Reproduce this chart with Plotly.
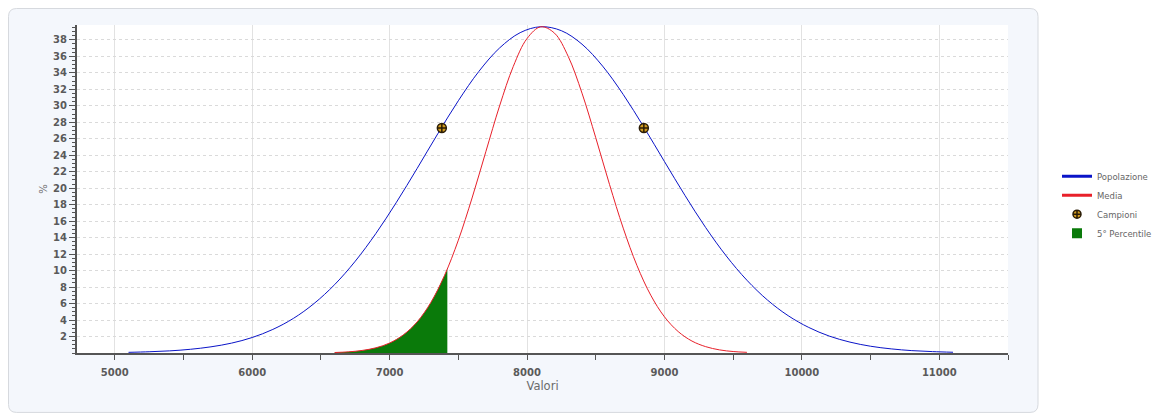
import plotly.graph_objects as go

# Popolazione curve
pop_x = [5100, 5250, 5400, 5550, 5700, 5850, 6000, 6150, 6300, 6450, 6600, 6750, 6900, 7050,
         7200, 7350, 7500, 7650, 7800, 7950, 8100, 8250, 8400, 8550, 8700, 8850, 9000, 9150,
         9300, 9450, 9600, 9750, 9900, 10050, 10200, 10350, 10500, 10650, 10800, 10950, 11100]
pop_y = [0.08, 0.15, 0.26, 0.45, 0.75, 1.2, 1.88, 2.86, 4.2, 6.0, 8.3, 11.14, 14.5, 18.3,
         22.39, 26.59, 30.61, 34.18, 37.01, 38.87, 39.59, 39.11, 37.47, 34.81, 31.37, 27.41, 23.23, 19.1,
         15.22, 11.77, 8.83, 6.42, 4.53, 3.1, 2.05, 1.32, 0.82, 0.5, 0.29, 0.17, 0.09]

# Media curve
media_x = [6600, 6700, 6800, 6900, 7000, 7100, 7200, 7300, 7400, 7500, 7600, 7700, 7800, 7900,
           8000, 8100, 8200, 8300, 8400, 8500, 8600, 8700, 8800, 8900, 9000, 9100, 9200, 9300,
           9400, 9500, 9600]
media_y = [0.06, 0.14, 0.31, 0.63, 1.21, 2.2, 3.77, 6.13, 9.43, 13.69, 18.81, 24.42, 29.97, 34.78,
           38.16, 39.58, 38.81, 35.97, 31.53, 26.12, 20.46, 15.15, 10.61, 7.02, 4.39, 2.6, 1.45, 0.77,
           0.38, 0.18, 0.08]

# 5th percentile shaded tail
perc_x = [6600, 6700, 6800, 6900, 7000, 7100, 7200, 7300, 7400, 7420]
perc_y = [0.06, 0.14, 0.31, 0.63, 1.21, 2.2, 3.77, 6.13, 9.43, 10.2]

# Campioni
camp_x = [7380, 8850]
camp_y = [27.3, 27.3]

x_ticks = [5000, 6000, 7000, 8000, 9000, 10000, 11000]
y_ticks = [2, 4, 6, 8, 10, 12, 14, 16, 18, 20, 22, 24, 26, 28, 30, 32, 34, 36, 38]

BLUE = "#0a14c8"
RED = "#e8202a"
GREEN = "#0a7a0a"

OFF = 8  # page body margin
W, H = 1163 - OFF, 418 - OFF
L, R, T, B = 77 - OFF, 1008 - OFF, 25 - OFF, 353.5 - OFF

fig = go.Figure()

fig.add_trace(go.Scatter(x=perc_x, y=perc_y, mode="lines", fill="tozeroy",
                         fillcolor=GREEN, line=dict(width=0, shape="spline"),
                         showlegend=False, hoverinfo="skip"))
fig.add_trace(go.Scatter(x=pop_x, y=pop_y, mode="lines", line=dict(color=BLUE, width=1, shape="spline"),
                         name="Popolazione", showlegend=False))
fig.add_trace(go.Scatter(x=media_x, y=media_y, mode="lines", line=dict(color=RED, width=1, shape="spline"),
                         name="Media", showlegend=False))
fig.add_trace(go.Scatter(x=camp_x, y=camp_y, mode="markers", name="Campioni", showlegend=False,
                         marker=dict(symbol="circle-cross", size=9, color="#d09a20",
                                     line=dict(color="#2a1c06", width=1.5))))

# legend entries
fig.add_trace(go.Scatter(x=[None], y=[None], mode="lines", name="Popolazione",
                         line=dict(color=BLUE, width=3)))
fig.add_trace(go.Scatter(x=[None], y=[None], mode="lines", name="Media",
                         line=dict(color=RED, width=3)))
fig.add_trace(go.Scatter(x=[None], y=[None], mode="markers", name="Campioni",
                         marker=dict(symbol="circle-cross", size=8, color="#d09a20",
                                     line=dict(color="#2a1c06", width=1.5))))
fig.add_trace(go.Scatter(x=[None], y=[None], mode="markers", name="5° Percentile",
                         marker=dict(symbol="square", size=10, color=GREEN)))

pw, ph = R - L, B - T


def px_x(v):
    return (v - OFF - L) / pw


def px_y(v):
    return (B - (v - OFF)) / ph


# rounded card behind the chart
cx0, cx1, cy0, cy1, rad = 8, 1038, 8.5, 413, 8
rx, ry = rad / pw, rad / ph
a, b, c, d = px_x(cx0 + 0.5), px_x(cx1), px_y(cy1), px_y(cy0)
card = (f"M {a+rx},{c} L {b-rx},{c} Q {b},{c} {b},{c+ry} L {b},{d-ry} Q {b},{d} {b-rx},{d} "
        f"L {a+rx},{d} Q {a},{d} {a},{d-ry} L {a},{c+ry} Q {a},{c} {a+rx},{c} Z")
fig.add_shape(type="path", path=card, xref="paper", yref="paper", layer="below",
              fillcolor="#f4f7fc", line=dict(color="#d6d9de", width=1))
fig.add_shape(type="rect", x0=0, x1=1, y0=0, y1=1, xref="paper", yref="paper", layer="below",
              fillcolor="white", line=dict(width=0))

tickfont = dict(family="DejaVu Sans", size=10, color="#5a5a5a", weight="bold")

fig.update_xaxes(range=[4725, 11500], tickvals=x_ticks, ticktext=[str(v) for v in x_ticks],
                 ticks="outside", ticklen=5, tickcolor="#555", tickfont=tickfont, ticklabelstandoff=4,
                 showline=True, linecolor="#555", linewidth=2,
                 showgrid=True, gridcolor="#e2e2e2", gridwidth=1, zeroline=False,
                 minor=dict(dtick=500, tick0=5000, ticks="outside", ticklen=5, tickcolor="#555", showgrid=False),
                 title=dict(text="Valori", font=dict(family="DejaVu Sans", size=11.5, color="#6a6a6a"), standoff=5))
fig.update_yaxes(range=[0, 39.8], tickvals=y_ticks, ticktext=[str(v) for v in y_ticks],
                 ticks="outside", ticklen=6, tickcolor="#555", tickfont=tickfont,
                 showline=True, linecolor="#555", linewidth=2,
                 showgrid=True, gridcolor="#dadada", griddash="dot", gridwidth=1, zeroline=False,
                 minor=dict(dtick=0.5, tick0=0, ticks="outside", ticklen=3, tickcolor="#555", showgrid=False),
                 title=dict(text="%", font=dict(family="DejaVu Sans", size=10, color="#6a6a6a"), standoff=4))

fig.update_layout(
    width=W, height=H,
    margin=dict(l=L, r=W - R, t=T, b=H - B, autoexpand=False),
    paper_bgcolor="white", plot_bgcolor="white",
    showlegend=True,
    legend=dict(x=px_x(1057), y=px_y(205), xanchor="left", yanchor="middle",
                font=dict(family="DejaVu Sans", size=8.5, color="#666"),
                bgcolor="rgba(0,0,0,0)", tracegroupgap=0, itemwidth=30),
)

fig.write_html("out.html")
